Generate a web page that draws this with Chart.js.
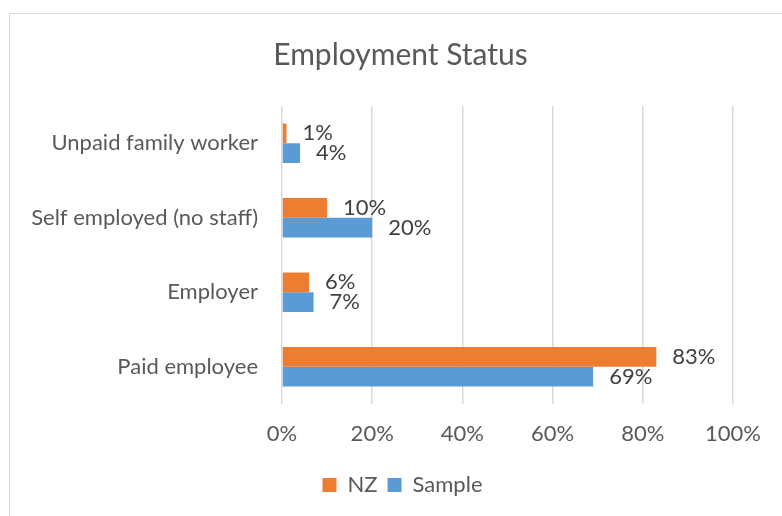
<!DOCTYPE html>
<html>
<head>
<meta charset="utf-8">
<script src="https://cdn.jsdelivr.net/npm/chart.js@4.4.1/dist/chart.umd.min.js"></script>
<style>
  html, body { margin: 0; padding: 0; background: #fff; overflow: hidden; }
  #frame {
    position: absolute; left: 9px; top: 13px;
    width: 800px; height: 520px;
    border: 1px solid #d9d9d9; background: #fff;
  }
  #wrap { position: absolute; left: 0; top: 0; width: 782px; height: 502px; }
</style>
</head>
<body>
<div id="frame">
  <div id="wrap"><canvas id="chart"></canvas></div>
</div>
<script>
// Employment status - NZ vs sample
const categories = ['Unpaid family worker', 'Self employed (no staff)', 'Employer', 'Paid employee'];
const nzValues = [1, 10, 6, 83];
const sampleValues = [4, 20, 7, 69];
const xTicks = [0, 20, 40, 60, 80, 100];

const FONT = 'Lato, "Open Sans", sans-serif';
const textColor = '#595959';

// draw the value labels just past the end of each bar
const valueLabels = {
  id: 'valueLabels',
  afterDatasetsDraw(chart) {
    const ctx = chart.ctx;
    ctx.save();
    ctx.font = '22px ' + FONT;
    ctx.fillStyle = '#404040';
    ctx.textAlign = 'left';
    ctx.textBaseline = 'middle';
    chart.data.datasets.forEach((ds, i) => {
      const meta = chart.getDatasetMeta(i);
      meta.data.forEach((bar, j) => {
        ctx.fillText(ds.data[j] + '%', bar.x + 16, bar.y);
      });
    });
    ctx.restore();
  }
};

// the title and legend sit centred on the whole frame, not on the area left of the right padding
const centreBlocks = {
  id: 'centreBlocks',
  afterLayout(chart) {
    if (chart.titleBlock) {
      chart.titleBlock.left += 29;
      chart.titleBlock.right += 29;
    }
    if (chart.legend) {
      chart.legend.left += 31;
      chart.legend.right += 31;
    }
  }
};

new Chart(document.getElementById('chart'), {
  type: 'bar',
  data: {
    labels: categories,
    datasets: [
      {
        label: 'NZ',
        data: nzValues,
        backgroundColor: '#ED7D31',
        categoryPercentage: 0.53,
        barPercentage: 1.0,
      },
      {
        label: 'Sample',
        data: sampleValues,
        backgroundColor: '#5B9BD5',
        categoryPercentage: 0.53,
        barPercentage: 1.0,
      },
    ],
  },
  options: {
    indexAxis: 'y',
    responsive: true,
    maintainAspectRatio: false,
    animation: false,
    layout: {
      padding: { left: 0, right: 59, top: 0, bottom: 10 },
    },
    plugins: {
      title: {
        display: true,
        text: 'Employment Status',
        color: textColor,
        font: { family: FONT, size: 30, weight: 'normal' },
        padding: { top: 23, bottom: 33 },
      },
      legend: {
        position: 'bottom',
        labels: {
          color: textColor,
          font: { family: FONT, size: 22 },
          boxWidth: 14,
          boxHeight: 14,
          padding: 10,
        },
      },
      tooltip: { enabled: false },
    },
    scales: {
      x: {
        min: 0,
        max: 100,
        afterBuildTicks: (scale) => {
          scale.ticks = xTicks.map((v) => ({ value: v }));
        },
        afterFit: (scale) => {
          scale.height = 60;
        },
        grid: { color: '#d9d9d9', lineWidth: 1.5, drawTicks: false },
        border: { display: false },
        ticks: {
          color: textColor,
          font: { family: FONT, size: 22 },
          padding: 17,
          callback: (v) => v + '%',
        },
      },
      y: {
        afterFit: (scale) => {
          scale.width = 272;
        },
        grid: { display: false, drawTicks: false },
        border: { display: false },
        ticks: {
          color: textColor,
          font: { family: FONT, size: 22 },
          padding: 24,
        },
      },
    },
  },
  plugins: [valueLabels, centreBlocks],
});
</script>
</body>
</html>
